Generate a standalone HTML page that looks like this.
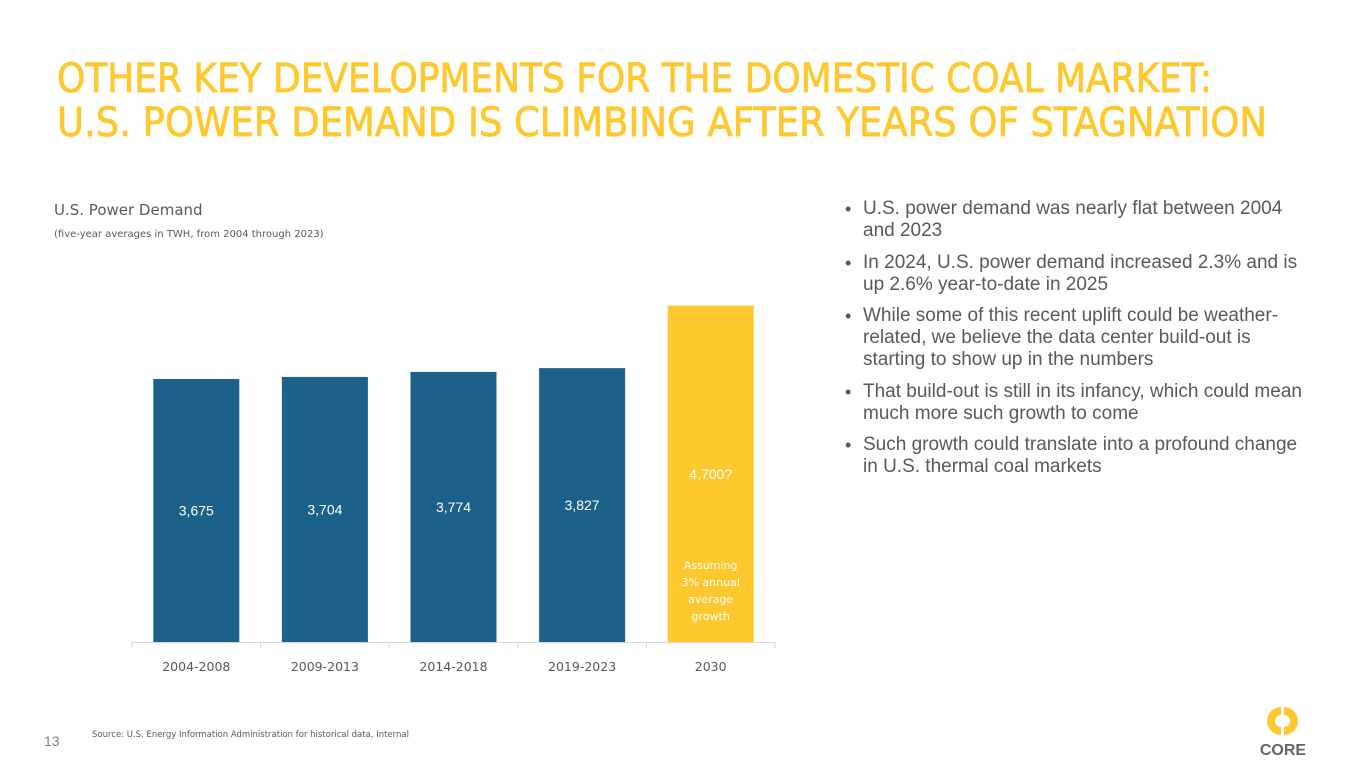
<!DOCTYPE html>
<html><head><meta charset="utf-8"><style>
body{margin:0;width:1365px;height:766px;background:#fff;position:relative;overflow:hidden;font-family:"Liberation Sans",sans-serif}
.abs{position:absolute}
ul{position:absolute;left:845px;top:198px;width:500px;margin:0;padding:0;list-style:none;color:#595959;font-size:19px;line-height:22px;white-space:nowrap}
li{position:relative;padding-left:18px;margin-bottom:9.5px}
li:before{content:"•";position:absolute;left:0;top:0;font-size:18px}
</style></head><body>
<svg class="abs" style="left:0;top:0" width="1365" height="766">
<text x="57" y="92" font-family="DejaVu Sans" font-size="40" fill="#FFC82E" stroke="#FFC82E" stroke-width="0.8" textLength="1155" lengthAdjust="spacingAndGlyphs">OTHER KEY DEVELOPMENTS FOR THE DOMESTIC COAL MARKET:</text>
<text x="57" y="136" font-family="DejaVu Sans" font-size="40" fill="#FFC82E" stroke="#FFC82E" stroke-width="0.8" textLength="1210" lengthAdjust="spacingAndGlyphs">U.S. POWER DEMAND IS CLIMBING AFTER YEARS OF STAGNATION</text>
<text x="54" y="215" font-family="DejaVu Sans" font-size="15" fill="#595959">U.S. Power Demand</text>
<text x="54" y="237" font-family="DejaVu Sans" font-size="10" fill="#595959">(five-year averages in TWH, from 2004 through 2023)</text>
<g id="chart"></g>
<text x="92" y="737" font-family="DejaVu Sans" font-size="8.5" fill="#595959">Source: U.S. Energy Information Administration for historical data, Internal</text>
<text x="44" y="746" font-size="14" fill="#7f7f7f">13</text>
<g>
<path d="M1281 707 A14 14 0 1 0 1281 735 Z" fill="#FFC82E"/>
<circle cx="1281" cy="721" r="6" fill="#fff"/>
<path d="M1284 707 A14 14 0 0 1 1284 735 Z" fill="#FFC82E"/>
<circle cx="1284" cy="721" r="6" fill="#fff"/>
<text x="1283" y="755" font-size="16" font-weight="bold" fill="#666" text-anchor="middle">CORE</text>
</g>
</svg>
<ul>
<li>U.S. power demand was nearly flat between 2004<br>and 2023</li>
<li>In 2024, U.S. power demand increased 2.3% and is<br>up 2.6% year-to-date in 2025</li>
<li>While some of this recent uplift could be weather-<br>related, we believe the data center build-out is<br>starting to show up in the numbers</li>
<li>That build-out is still in its infancy, which could mean<br>much more such growth to come</li>
<li>Such growth could translate into a profound change<br>in U.S. thermal coal markets</li>
</ul>
<script>
const categories=["2004-2008","2009-2013","2014-2018","2019-2023","2030"];
const values=[3675,3704,3774,3827,4700];
const valueLabels=["3,675","3,704","3,774","3,827","4,700?"];
const ns="http://www.w3.org/2000/svg";
const g=document.getElementById("chart");
const x0=132,x1=775,base=642,k=263/3675;
const step=(x1-x0)/categories.length,bw=86;
const y=v=>base-v*k;
function mk(t,a){const e=document.createElementNS(ns,t);for(const n in a)e.setAttribute(n,a[n]);g.appendChild(e);return e;}
const ax=mk("line",{x1:x0,x2:x1,y1:base+0.5,y2:base+0.5,stroke:"#d9d9d9"});


for(let i=0;i<=categories.length;i++){
 const t=mk("line",{x1:x0+i*step,x2:x0+i*step,y1:base,y2:base+6,stroke:"#d9d9d9"});
 
 
}
categories.forEach((c,i)=>{
 const cx=x0+step*(i+0.5),last=i===categories.length-1;
 const r=mk("rect",{x:cx-bw/2,y:y(values[i]),width:bw,height:base-y(values[i]),fill:last?"#FFC82E":"#1B6189"});
 
 
 const lt=mk("text",{x:cx,y:(y(values[i])+base)/2+5,"font-size":14,fill:"#fff","text-anchor":"middle"});
 lt.textContent=valueLabels[i];
 
 
 const ct=mk("text",{x:cx,y:671,"font-size":12.5,"font-family":"DejaVu Sans",fill:"#595959","text-anchor":"middle"});
 ct.textContent=c;
 
 
 if(last){["Assuming","3% annual","average","growth"].forEach((s,j)=>{
  const n=mk("text",{x:cx,y:569+j*17,"font-size":11,"font-family":"DejaVu Sans",fill:"#fff","text-anchor":"middle"});
  n.textContent=s;
  
  
 });}
});
</script>
</body></html>
